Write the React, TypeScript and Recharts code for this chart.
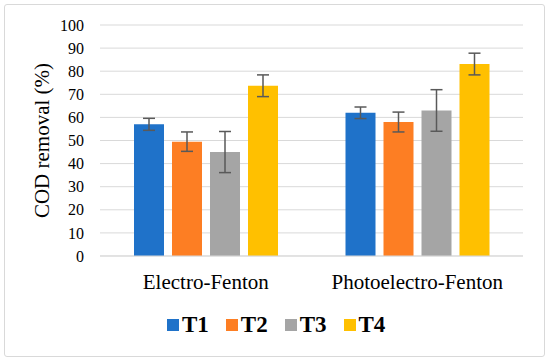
import { Bar, BarChart, CartesianGrid, ErrorBar, Legend, XAxis, YAxis } from "recharts"

const categories = ["Electro-Fenton", "Photoelectro-Fenton"]
const t1 = [57, 62]
const t2 = [49.5, 58]
const t3 = [45, 63]
const t4 = [73.7, 83.1]
const t1Err = [2.6, 2.5]
const t2Err = [4.2, 4.3]
const t3Err = [8.9, 9]
const t4Err = [4.7, 4.7]
const yTicks = [0, 10, 20, 30, 40, 50, 60, 70, 80, 90, 100]

const series = [
  { key: "t1", name: "T1", color: "#1F72C9" },
  { key: "t2", name: "T2", color: "#FD7E23" },
  { key: "t3", name: "T3", color: "#A5A5A5" },
  { key: "t4", name: "T4", color: "#FFC000" },
]

const data = categories.map((name, i) => ({
  name,
  t1: t1[i],
  t2: t2[i],
  t3: t3[i],
  t4: t4[i],
  t1Err: t1Err[i],
  t2Err: t2Err[i],
  t3Err: t3Err[i],
  t4Err: t4Err[i],
}))

const font = "Liberation Serif"

function LegendContent() {
  return (
    <div
      style={{
        display: "flex",
        justifyContent: "flex-start",
        alignItems: "center",
        fontFamily: font,
        paddingTop: 11,
        paddingLeft: 167,
      }}
    >
      {series.map((s) => (
        <div key={s.key} style={{ display: "flex", alignItems: "center", marginRight: 17 }}>
          <span style={{ width: 12, height: 12, background: s.color, display: "inline-block", marginRight: 3 }} />
          <span style={{ fontSize: 23, fontWeight: "bold", color: "#000" }}>{s.name}</span>
        </div>
      ))}
    </div>
  )
}

export default function App() {
  return (
    <div style={{ position: "absolute", left: 0, top: 0, width: 550, height: 361 }}>
      <div
        style={{
          position: "absolute",
          left: 4,
          top: 4,
          width: 539,
          height: 351,
          border: "1px solid #d9d9d9",
          borderRadius: 3,
        }}
      />
      <BarChart
        width={550}
        height={361}
        data={data}
        margin={{ top: 25, right: 27, bottom: 10, left: 0 }}
        barCategoryGap={34}
        barGap={8}
      >
        <CartesianGrid vertical={false} stroke="#d9d9d9" strokeWidth={1} />
        <XAxis
          dataKey="name"
          tickLine={false}
          axisLine={{ stroke: "#d9d9d9" }}
          tickSize={0}
          tickMargin={18}
          height={45}
          tick={{ fontFamily: font, fontSize: 21, fill: "#000" }}
        />
        <YAxis
          domain={[0, 100]}
          ticks={yTicks}
          interval={0}
          width={100}
          tickLine={false}
          axisLine={false}
          tickSize={0}
          tickMargin={16}
          tick={{ fontFamily: font, fontSize: 16, fill: "#000" }}
          label={{
            value: "COD removal (%)",
            angle: -90,
            position: "insideLeft",
            offset: 42,
            style: { fontFamily: font, fontSize: 21, fill: "#000", textAnchor: "middle" },
          }}
        />
        <Legend verticalAlign="bottom" height={50} content={<LegendContent />} />
        {series.map((s) => (
          <Bar key={s.key} dataKey={s.key} name={s.name} fill={s.color} isAnimationActive={false}>
            <ErrorBar dataKey={s.key + "Err"} width={6} stroke="#595959" strokeWidth={1.5} />
          </Bar>
        ))}
      </BarChart>
    </div>
  )
}
